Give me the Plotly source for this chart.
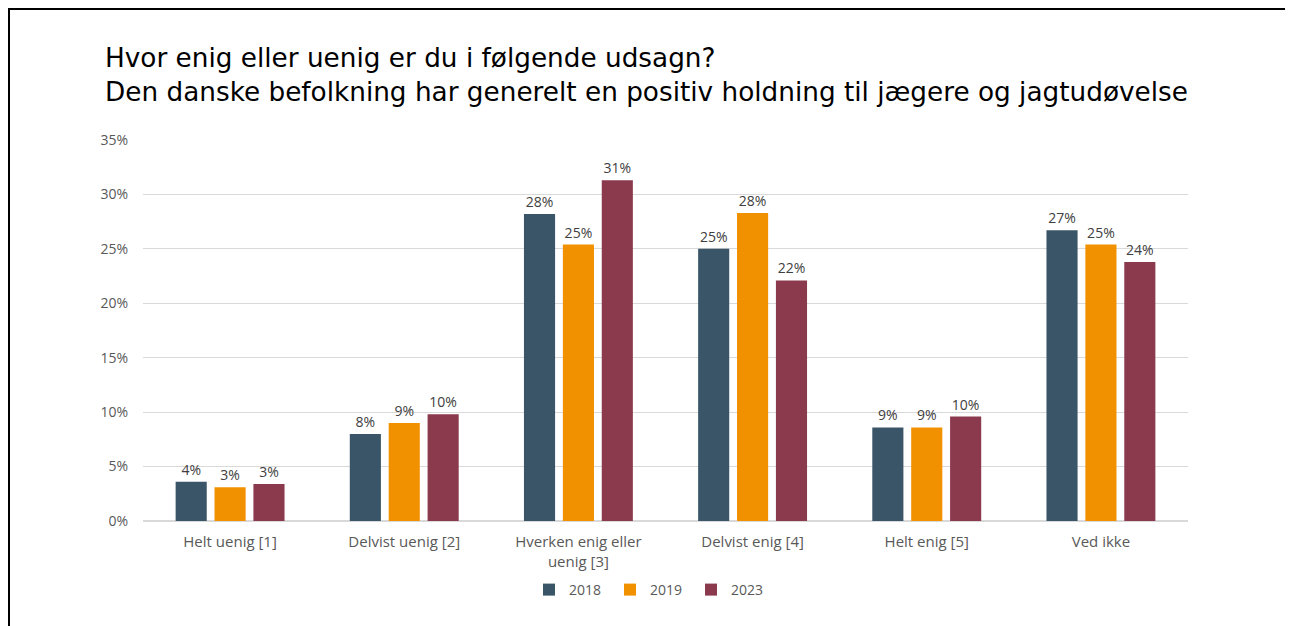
import plotly.graph_objects as go

categories = ["Helt uenig [1]", "Delvist uenig [2]", "Hverken enig eller<br>uenig [3]",
              "Delvist enig [4]", "Helt enig [5]", "Ved ikke"]
years = ["2018", "2019", "2023"]
v2018 = [0.036, 0.080, 0.282, 0.250, 0.086, 0.267]
v2019 = [0.031, 0.090, 0.254, 0.283, 0.086, 0.254]
v2023 = [0.034, 0.098, 0.313, 0.221, 0.096, 0.238]
colors = ["#3A5567", "#F29100", "#8B3A4E"]
tick_vals = [0, 0.05, 0.10, 0.15, 0.20, 0.25, 0.30, 0.35]

TITLE_FONT = "DejaVu Sans"
FONT = "Open Sans"

# figure pixel geometry (page body adds an 8px offset)
W, H = 1285, 618
L, R, T, B = 135, 105, 132, 105
PW, PH = W - L - R, H - T - B

def px_x(x):
    return (x - L) / PW

def px_y(y):
    return (H - B - y) / PH

fig = go.Figure()
for name, vals, col in zip(years, [v2018, v2019, v2023], colors):
    fig.add_trace(go.Bar(
        x=categories, y=vals, name=name, marker=dict(color=col, line=dict(width=0)),
        texttemplate="%{y:.0%}", textposition="outside", cliponaxis=False,
        textfont=dict(family=FONT, size=14, color="#404040"),
    ))

fig.update_layout(
    width=W, height=H,
    margin=dict(l=L, r=R, t=T, b=B, autoexpand=False),
    paper_bgcolor="white", plot_bgcolor="white",
    barmode="group", bargap=0.33, bargroupgap=0.2,
    title=dict(
        text="Hvor enig eller uenig er du i følgende udsagn?<br>Den danske befolkning har generelt en positiv holdning til jægere og jagtudøvelse",
        x=97 / W, xanchor="left", xref="container",
        y=1 - 59 / H, yanchor="top", yref="container",
        font=dict(family=TITLE_FONT, size=26.3, color="#000000"),
    ),
    legend=dict(orientation="h", x=0.5, xanchor="center", xref="container",
                y=1 - 582 / H, yref="container", yanchor="middle",
                font=dict(family=FONT, size=14, color="#595959"),
                itemwidth=30, entrywidth=36, traceorder="normal", tracegroupgap=0),
    showlegend=True,
)
fig.update_yaxes(range=[0, 0.35], tickvals=tick_vals, tickformat=".0%",
                 showgrid=True, gridcolor="#D9D9D9", gridwidth=1,
                 zeroline=True, zerolinecolor="#D9D9D9", showline=False,
                 ticklabelstandoff=14,
                 tickfont=dict(family=FONT, size=14, color="#595959"))
fig.update_xaxes(showline=False, ticks="",
                 ticklabelstandoff=10,
                 tickfont=dict(family=FONT, size=15, color="#595959"))

# outer border
fig.add_shape(type="rect", xref="paper", yref="paper",
              x0=px_x(1), x1=px_x(1284),
              y0=px_y(H + 20), y1=px_y(1),
              line=dict(color="black", width=2), fillcolor="rgba(0,0,0,0)", layer="above")

fig.write_html("out.html")
